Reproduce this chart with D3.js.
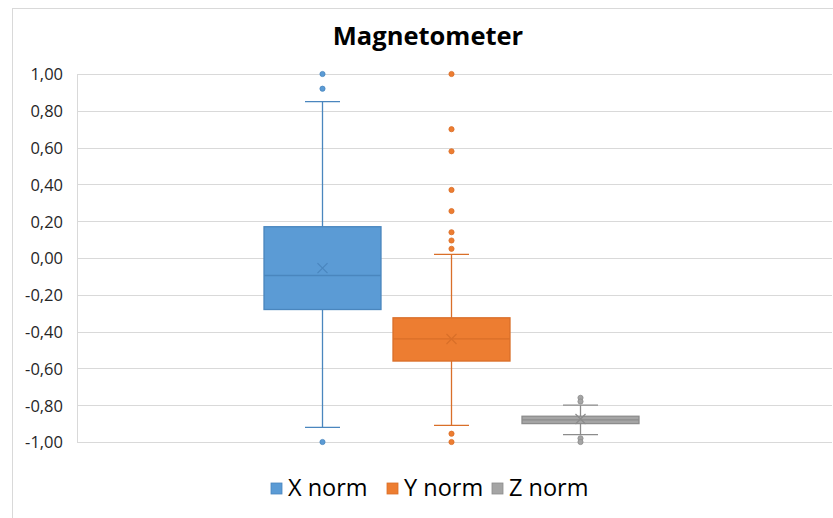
<!DOCTYPE html>
<html>
<head>
<meta charset="utf-8">
<script src="https://cdn.jsdelivr.net/npm/d3@7"></script>
<style>
  body { margin: 0; background: #fff; }
  svg { display: block; }
</style>
</head>
<body>
<svg id="chart" width="833" height="518"></svg>
<script>
// series names + colours (Excel office palette)
var seriesNames = ["X norm", "Y norm", "Z norm"];
var fillColors = ["#5B9BD5", "#ED7D31", "#A5A5A5"];
var lineColors = ["#4A86BE", "#D96F29", "#8C8C8C"];

// box stats
var whiskerLow = [-0.92, -0.91, -0.96];
var q1Values = [-0.28, -0.56, -0.90];
var medianValues = [-0.095, -0.44, -0.88];
var q3Values = [0.17, -0.325, -0.86];
var whiskerHigh = [0.85, 0.02, -0.80];
var meanValues = [-0.055, -0.44, -0.875];
var outlierValues = [
  [1.00, 0.92, -1.00],
  [1.00, 0.70, 0.58, 0.37, 0.255, 0.14, 0.095, 0.05, -0.955, -1.00],
  [-0.76, -0.78, -0.98, -1.00]
];
var yTicks = [1, 0.8, 0.6, 0.4, 0.2, 0, -0.2, -0.4, -0.6, -0.8, -1];

var svg = d3.select("#chart");
var font = "'Open Sans', sans-serif";

// outer chart border
svg.append("rect")
  .attr("x", 12.5).attr("y", 8.5)
  .attr("width", 830).attr("height", 520)
  .attr("fill", "#fff")
  .attr("stroke", "#d9d9d9");

var plot = { left: 77, right: 832, top: 74, bottom: 442 };

var y = d3.scaleLinear().domain([-1, 1]).range([plot.bottom, plot.top]);
var x = d3.scaleBand()
  .domain(seriesNames)
  .range([258, 645])
  .paddingInner(0.093)
  .paddingOuter(0.0465);

// gridlines
svg.append("g")
  .selectAll("line")
  .data(yTicks)
  .join("line")
  .attr("x1", plot.left).attr("x2", plot.right)
  .attr("y1", function(d) { return Math.round(y(d)) + 0.5; })
  .attr("y2", function(d) { return Math.round(y(d)) + 0.5; })
  .attr("stroke", "#d9d9d9")
  .attr("stroke-width", 1);

// left axis line
svg.append("line")
  .attr("x1", plot.left + 0.5).attr("x2", plot.left + 0.5)
  .attr("y1", plot.top).attr("y2", plot.bottom)
  .attr("stroke", "#d9d9d9");

// y axis labels
var fmt = function(d) { return d3.format(".2f")(d).replace(".", ",").replace("−", "-"); };
var yAxis = d3.axisLeft(y).tickValues(yTicks).tickSize(0).tickPadding(14).tickFormat(fmt);
var ag = svg.append("g").attr("transform", "translate(" + plot.left + ",0)").call(yAxis);
ag.select(".domain").remove();
ag.selectAll("text")
  .attr("font-family", font)
  .attr("font-size", 16.5)
  .attr("fill", "#262626")
  .attr("dy", "0.36em");

// boxes
var boxes = svg.append("g")
  .selectAll("g")
  .data(seriesNames)
  .join("g");

boxes.each(function(name, i) {
  var g = d3.select(this);
  var x0 = x(name), bw = x.bandwidth(), cx = x0 + bw / 2;
  var capW = 35;
  var lc = lineColors[i];

  // whiskers
  g.append("line")
    .attr("x1", cx).attr("x2", cx)
    .attr("y1", y(whiskerHigh[i])).attr("y2", y(q3Values[i]))
    .attr("stroke", lc).attr("stroke-width", 1.3);
  g.append("line")
    .attr("x1", cx).attr("x2", cx)
    .attr("y1", y(q1Values[i])).attr("y2", y(whiskerLow[i]))
    .attr("stroke", lc).attr("stroke-width", 1.3);
  [whiskerHigh[i], whiskerLow[i]].forEach(function(v) {
    g.append("line")
      .attr("x1", cx - capW / 2).attr("x2", cx + capW / 2)
      .attr("y1", y(v)).attr("y2", y(v))
      .attr("stroke", lc).attr("stroke-width", 1.3);
  });

  // box
  g.append("rect")
    .attr("x", x0).attr("width", bw)
    .attr("y", y(q3Values[i]))
    .attr("height", y(q1Values[i]) - y(q3Values[i]))
    .attr("fill", fillColors[i])
    .attr("stroke", lc).attr("stroke-width", 1.3);

  // median
  g.append("line")
    .attr("x1", x0).attr("x2", x0 + bw)
    .attr("y1", y(medianValues[i])).attr("y2", y(medianValues[i]))
    .attr("stroke", lc).attr("stroke-width", 1.3);

  // mean marker (x)
  var my = y(meanValues[i]), s = 5;
  g.append("path")
    .attr("d", "M" + (cx - s) + "," + (my - s) + "L" + (cx + s) + "," + (my + s) +
               "M" + (cx - s) + "," + (my + s) + "L" + (cx + s) + "," + (my - s))
    .attr("stroke", lc).attr("stroke-width", 1.2).attr("fill", "none");

  // outliers
  g.selectAll("circle")
    .data(outlierValues[i])
    .join("circle")
    .attr("cx", cx)
    .attr("cy", function(d) { return y(d); })
    .attr("r", 2.6)
    .attr("fill", fillColors[i])
    .attr("stroke", lc).attr("stroke-width", 0.8);
});

// title
svg.append("text")
  .attr("x", 428).attr("y", 45)
  .attr("text-anchor", "middle")
  .attr("font-family", font)
  .attr("font-weight", "bold")
  .attr("font-size", 25.5)
  .attr("fill", "#000")
  .text("Magnetometer");

// legend
var legendX = [271, 387, 492];
var legend = svg.append("g")
  .selectAll("g")
  .data(seriesNames)
  .join("g")
  .attr("transform", function(d, i) { return "translate(" + legendX[i] + ",483)"; });
legend.append("rect")
  .attr("width", 11).attr("height", 11)
  .attr("fill", function(d, i) { return fillColors[i]; })
  .attr("stroke", function(d, i) { return lineColors[i]; })
  .attr("stroke-width", 0.8);
legend.append("text")
  .attr("x", 17).attr("y", 13)
  .attr("font-family", font)
  .attr("font-size", 23.5)
  .attr("fill", "#000")
  .text(function(d) { return d; });
</script>
</body>
</html>
